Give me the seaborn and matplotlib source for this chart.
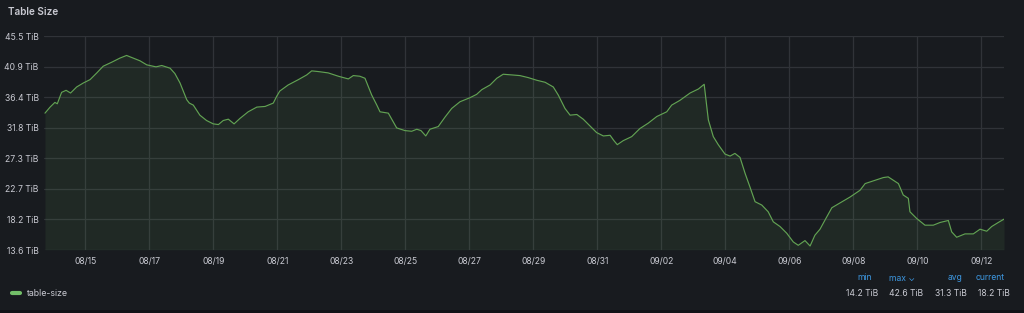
import numpy as np
import pandas as pd
import matplotlib
matplotlib.use("Agg")
import matplotlib.pyplot as plt
import matplotlib.dates as mdates
import seaborn as sns
from matplotlib.patches import Rectangle

# ---------------- data ----------------
# time offsets in days relative to 08/15 00:00
day_offsets = [
    -1.26, -1.10, -0.95, -0.875, -0.74, -0.60, -0.46, -0.27, -0.06, 0.15,
    0.36, 0.56, 0.83, 1.08, 1.29, 1.50, 1.71, 1.92, 2.21, 2.39,
    2.65, 2.80, 2.96, 3.17, 3.25, 3.375, 3.58, 3.79, 4.00, 4.16,
    4.31, 4.47, 4.65, 4.83, 5.09, 5.36, 5.62, 5.875, 5.98, 6.08,
    6.34, 6.66, 6.92, 7.075, 7.28, 7.59, 7.91, 8.22, 8.375, 8.58,
    8.74, 8.95, 9.11, 9.21, 9.47, 9.575, 9.73, 9.99, 10.20, 10.36,
    10.49, 10.64, 10.77, 11.03, 11.24, 11.45, 11.71, 12.02, 12.23, 12.39,
    12.65, 12.86, 13.06, 13.33, 13.58, 13.84, 14.11, 14.37, 14.625, 14.78,
    14.99, 15.15, 15.36, 15.56, 15.77, 15.98, 16.19, 16.40, 16.52, 16.625,
    16.81, 17.075, 17.33, 17.59, 17.86, 18.17, 18.325, 18.58, 18.90, 19.16,
    19.34, 19.42, 19.47, 19.625, 19.78, 19.99, 20.15, 20.30, 20.46, 20.62,
    20.77, 20.93, 21.14, 21.34, 21.50, 21.71, 21.92, 22.125, 22.28, 22.49,
    22.65, 22.80, 22.96, 23.12, 23.33, 23.58, 23.90, 24.21, 24.37, 24.625,
    24.94, 25.09, 25.25, 25.41, 25.56, 25.72, 25.77, 25.98, 26.24, 26.50,
    26.71, 26.97, 27.075, 27.23, 27.49, 27.75, 27.96, 28.17, 28.325, 28.53,
    28.71,
]
table_size_tib = [
    34.0, 34.9, 35.6, 35.4, 37.1, 37.4, 37.0, 37.9, 38.5, 39.0,
    40.0, 41.0, 41.6, 42.2, 42.6, 42.2, 41.8, 41.2, 40.9, 41.1,
    40.7, 39.9, 38.5, 36.0, 35.5, 35.2, 33.7, 32.9, 32.4, 32.3,
    32.9, 33.1, 32.4, 33.2, 34.2, 34.9, 35.0, 35.5, 36.5, 37.3,
    38.2, 39.0, 39.7, 40.3, 40.2, 40.0, 39.5, 39.1, 39.6, 39.5,
    39.2, 36.7, 35.2, 34.2, 34.0, 33.1, 31.8, 31.4, 31.3, 31.6,
    31.4, 30.6, 31.6, 32.0, 33.4, 34.7, 35.7, 36.3, 36.8, 37.5,
    38.2, 39.2, 39.8, 39.7, 39.6, 39.3, 38.9, 38.6, 37.9, 36.7,
    34.7, 33.7, 33.8, 33.1, 32.1, 31.1, 30.6, 30.7, 29.9, 29.3,
    29.9, 30.5, 31.7, 32.5, 33.5, 34.2, 35.2, 35.9, 37.0, 37.6,
    38.3, 35.0, 33.0, 30.5, 29.3, 27.9, 27.6, 28.0, 27.4, 25.0,
    23.0, 20.8, 20.3, 19.3, 17.8, 17.1, 16.1, 14.8, 14.3, 15.0,
    14.2, 15.8, 16.7, 18.1, 19.9, 20.6, 21.5, 22.5, 23.5, 23.9,
    24.4, 24.5, 24.0, 23.5, 21.8, 21.3, 19.3, 18.3, 17.3, 17.3,
    17.7, 18.0, 16.3, 15.5, 16.0, 16.0, 16.7, 16.4, 17.1, 17.7,
    18.2,
]
series_name = "table-size"
y_ticks = [13.6, 18.2, 22.7, 27.3, 31.8, 36.4, 40.9, 45.5]
y_min, y_max = 13.64, 45.5
x_start, x_end = "2023-08-13 17:15", "2023-09-12 17:15"
x_tick_dates = pd.date_range("2023-08-15", "2023-09-12", freq="2D")
stat_names = ["min", "max \u2304", "avg", "current"]
stat_values = ["14.2 TiB", "42.6 TiB", "31.3 TiB", "18.2 TiB"]
title = "Table Size"

# ---------------- style ----------------
BG = "#181b1f"
TEXT = "#c9cad2"
GRID = "#303338"
GREEN = "#62a253"
BLUE = "#3d97e0"

sns.set_theme(style="dark")
plt.rcParams["font.family"] = ["Inter", "DejaVu Sans"]

df = pd.DataFrame({
    "time": pd.Timestamp("2023-08-15") + pd.to_timedelta(day_offsets, unit="D"),
    "tib": table_size_tib,
})

fig = plt.figure(figsize=(10.24, 3.13), dpi=100, facecolor=BG)
ax = fig.add_axes([44.3 / 1024, 1 - 250 / 313, 960 / 1024, 214 / 313])
ax.set_facecolor(BG)

sns.lineplot(data=df, x="time", y="tib", ax=ax, color=GREEN, linewidth=0.85,
             label=series_name, legend=False)
ax.fill_between(df["time"], df["tib"], y_min, color="#73bf69", alpha=0.09, linewidth=0)

ax.set_xlim(pd.Timestamp(x_start), pd.Timestamp(x_end))
ax.set_ylim(y_min, y_max)
ax.set_yticks(y_ticks)
ax.set_yticklabels([f"{v:.1f} TiB" for v in y_ticks])
ax.set_xticks(x_tick_dates)
ax.xaxis.set_major_formatter(mdates.DateFormatter("%m/%d"))
ax.set_xlabel("")
ax.set_ylabel("")

ax.grid(True, color=GRID, linewidth=0.9)
ax.set_axisbelow(True)
for s in ax.spines.values():
    s.set_visible(False)
ax.tick_params(axis="both", length=0, colors=TEXT, labelsize=6.2)
ax.tick_params(axis="y", pad=4)
ax.tick_params(axis="x", pad=5)

# panel title
fig.text(8 / 1024, 1 - 12 / 313, title, color=TEXT, fontsize=7.2,
         fontweight="semibold", ha="left", va="center")

# legend
handle = ax.get_lines()[0]
leg = fig.legend(handles=[handle], labels=[series_name], loc="center left",
                 bbox_to_anchor=(4 / 1024, 1 - 294 / 313), frameon=False,
                 fontsize=6.3, handlelength=0.9, handletextpad=0.8, labelcolor=TEXT)
for l in leg.get_lines():
    l.set_linewidth(3)
    l.set_solid_capstyle("round")
    l.set_color("#73bf69")

# legend stats table
val_right = [878, 923, 967, 1010]
head_right = [872, 915, 962, 1005]
for name, val, vr, hr in zip(stat_names, stat_values, val_right, head_right):
    fig.text(hr / 1024, 1 - 278 / 313, name, color=BLUE, fontsize=6.2,
             ha="right", va="center")
    fig.text(vr / 1024, 1 - 294 / 313, val, color=TEXT, fontsize=6.2,
             ha="right", va="center")

# bottom dark strip (dashboard background)
fig.patches.append(Rectangle((0, 0), 1, 3 / 313, transform=fig.transFigure,
                             facecolor="#111217", edgecolor="none"))

fig.savefig("out.png", dpi=100, facecolor=BG)
